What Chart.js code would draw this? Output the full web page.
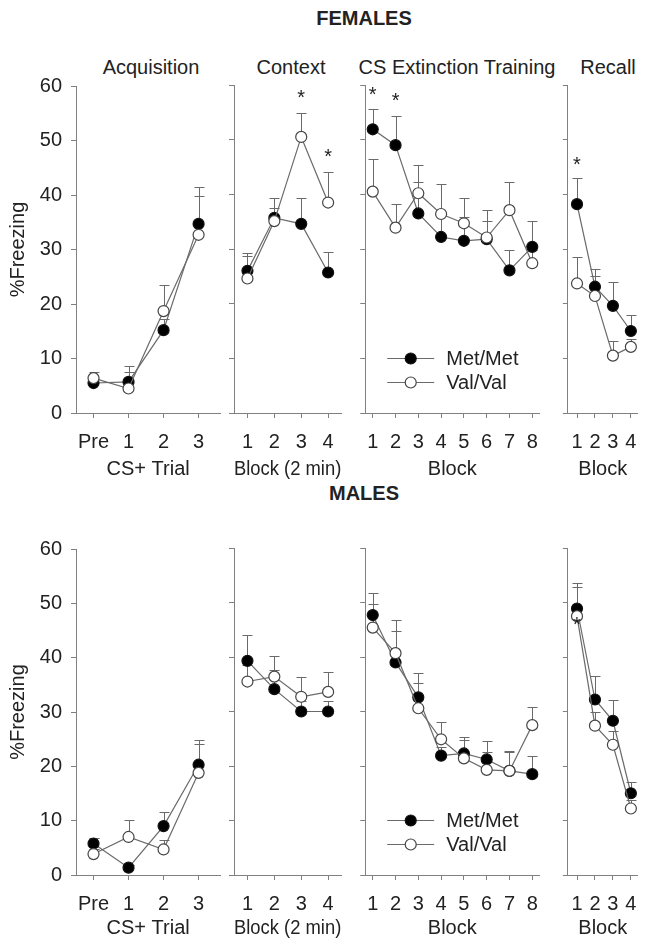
<!DOCTYPE html>
<html>
<head>
<meta charset="utf-8">
<script src="https://cdn.jsdelivr.net/npm/chart.js@4.4.1/dist/chart.umd.min.js"></script>
<style>
body { margin: 0; background: #fff; width: 649px; height: 943px; position: relative; overflow: hidden;
       font-family: "Liberation Sans", Arial, sans-serif; color: #222; }
canvas { position: absolute; }
.t { position: absolute; font-size: 20px; line-height: 1; white-space: nowrap; transform: translate(-50%, -50%); }
.h { font-weight: bold; }
</style>
</head>
<body>
<div class="t h" style="left:364px;top:18px">FEMALES</div>
<div class="t" style="left:151px;top:67px">Acquisition</div>
<div class="t" style="left:291px;top:67px">Context</div>
<div class="t" style="left:457px;top:67px">CS Extinction Training</div>
<div class="t" style="left:608px;top:67px">Recall</div>
<div class="t h" style="left:364px;top:493px">MALES</div>

<canvas id="fAcq"></canvas>
<canvas id="fCtx"></canvas>
<canvas id="fExt"></canvas>
<canvas id="fRec"></canvas>
<canvas id="mAcq"></canvas>
<canvas id="mCtx"></canvas>
<canvas id="mExt"></canvas>
<canvas id="mRec"></canvas>

<script>
// tick labels
const acqLabels = ['Pre', '1', '2', '3'];
const ctxLabels = ['1', '2', '3', '4'];
const extLabels = ['1', '2', '3', '4', '5', '6', '7', '8'];
const recLabels = ['1', '2', '3', '4'];

// females: mean and SEM (% freezing)
const fAcqMet = [5.5, 5.7, 15.2, 34.7];
const fAcqMetSem = [0.8, 2.9, 2.0, 6.7];
const fAcqVal = [6.4, 4.5, 18.7, 32.7];
const fAcqValSem = [1.2, 3.1, 4.8, 7.2];

const fCtxMet = [26.0, 35.7, 34.6, 25.7];
const fCtxMetSem = [3.3, 3.7, 4.8, 3.8];
const fCtxVal = [24.6, 35.1, 50.5, 38.5];
const fCtxValSem = [4.2, 2.4, 4.3, 5.5];

const fExtMet = [51.9, 49.0, 36.5, 32.2, 31.5, 31.8, 26.1, 30.4];
const fExtMetSem = [3.7, 5.4, 5.8, 4.6, 4.4, 3.3, 3.7, 4.8];
const fExtVal = [40.5, 33.9, 40.2, 36.4, 34.7, 32.1, 37.1, 27.4];
const fExtValSem = [5.9, 4.3, 5.1, 5.4, 4.7, 5.0, 5.2, 2.5];

const fRecMet = [38.2, 23.1, 19.6, 15.0];
const fRecMetSem = [4.7, 3.2, 4.4, 2.9];
const fRecVal = [23.7, 21.4, 10.5, 12.1];
const fRecValSem = [4.8, 3.7, 2.7, 1.5];

// males
const mAcqMet = [5.8, 1.35, 9.0, 20.3];
const mAcqMetSem = [1.0, 0.5, 2.6, 4.5];
const mAcqVal = [3.85, 7.0, 4.7, 18.8];
const mAcqValSem = [1.0, 3.1, 1.7, 5.4];

const mCtxMet = [39.3, 34.1, 30.0, 30.0];
const mCtxMetSem = [4.7, 3.6, 2.0, 2.0];
const mCtxVal = [35.5, 36.4, 32.7, 33.6];
const mCtxValSem = [3.0, 3.8, 3.7, 3.7];

const mExtMet = [47.7, 39.0, 32.6, 21.9, 22.3, 21.2, 19.1, 18.5];
const mExtMetSem = [4.0, 5.8, 4.4, 1.5, 3.1, 3.3, 3.7, 3.3];
const mExtVal = [45.4, 40.7, 30.6, 24.9, 21.4, 19.3, 19.1, 27.5];
const mExtValSem = [4.3, 6.1, 4.6, 3.2, 3.4, 3.3, 3.5, 3.4];

const mRecMet = [48.9, 32.2, 28.3, 15.0];
const mRecMetSem = [4.7, 4.3, 3.9, 2.0];
const mRecVal = [47.5, 27.4, 23.9, 12.2];
const mRecValSem = [5.4, 2.5, 2.5, 1.5];

// significant blocks (*)
const fCtxStars = [3, 4];
const fExtStars = [1, 2];
const fRecStars = [1];
const mRecStars = [1];

const AXIS = '#808080';
const LINE = '#6a6a6a';
const FONT = '"Liberation Sans", Arial, sans-serif';

Chart.defaults.font.family = FONT;
Chart.defaults.font.size = 20;
Chart.defaults.color = '#222';

const errorBars = {
  id: 'errorBars',
  beforeDatasetsDraw(chart) {
    const { ctx, scales: { x, y } } = chart;
    ctx.save();
    ctx.strokeStyle = LINE;
    ctx.lineWidth = 1;
    chart.data.datasets.forEach(ds => {
      ds.data.forEach((p, i) => {
        const px = Math.round(x.getPixelForValue(p.x)) + 0.5;
        const y0 = y.getPixelForValue(p.y);
        const y1 = Math.round(y.getPixelForValue(p.y + ds.sem[i])) + 0.5;
        ctx.beginPath();
        ctx.moveTo(px, y0);
        ctx.lineTo(px, y1);
        ctx.moveTo(px - 5, y1);
        ctx.lineTo(px + 5, y1);
        ctx.stroke();
      });
    });
    ctx.restore();
  }
};

const stars = {
  id: 'stars',
  afterDatasetsDraw(chart, args, o) {
    if (!o.at || !o.at.length) return;
    const { ctx, scales: { x, y } } = chart;
    ctx.save();
    ctx.font = '20px ' + FONT;
    ctx.fillStyle = '#222';
    ctx.textAlign = 'center';
    o.at.forEach(xv => {
      let top = -Infinity;
      chart.data.datasets.forEach(ds => ds.data.forEach((p, i) => {
        if (p.x === xv) top = Math.max(top, p.y + ds.sem[i]);
      }));
      const cy = y.getPixelForValue(top) - o.gap;
      ctx.fillText('*', x.getPixelForValue(xv), cy + 11.5);
    });
    ctx.restore();
  }
};

const genoLegend = {
  id: 'genoLegend',
  afterDraw(chart, args, o) {
    if (!o.show) return;
    const { ctx, chartArea: a } = chart;
    ctx.save();
    ctx.font = '20px ' + FONT;
    ctx.fillStyle = '#222';
    ctx.textBaseline = 'middle';
    chart.data.datasets.forEach((ds, i) => {
      const yy = Math.round(a.bottom - 55 + i * 24) + 0.5;
      const x0 = a.left + 22;
      ctx.strokeStyle = LINE;
      ctx.lineWidth = 1.2;
      ctx.beginPath();
      ctx.moveTo(x0, yy);
      ctx.lineTo(x0 + 47, yy);
      ctx.stroke();
      ctx.beginPath();
      ctx.arc(x0 + 23.5, yy, 5.5, 0, Math.PI * 2);
      ctx.fillStyle = ds.pointBackgroundColor;
      ctx.fill();
      ctx.strokeStyle = ds.pointBorderColor;
      ctx.stroke();
      ctx.fillStyle = '#222';
      ctx.fillText(ds.label, x0 + 59, yy + 1);
    });
    ctx.restore();
  }
};

Chart.register(errorBars, stars, genoLegend);

function series(label, xs, vals, sem, filled) {
  return {
    label: label,
    data: xs.map((x, i) => ({ x: x, y: vals[i] })),
    sem: sem,
    borderColor: LINE,
    borderWidth: 1.2,
    pointRadius: 5.5,
    pointBorderWidth: 1.2,
    pointBackgroundColor: filled ? '#000' : '#fff',
    pointBorderColor: filled ? '#111' : '#444',
    order: filled ? 1 : 0,
    clip: false
  };
}

function panel(id, box, labels, first, xMin, xMax, xTitle, met, metSem, val, valSem, extra) {
  const cv = document.getElementById(id);
  cv.width = box.w;
  cv.height = box.h;
  cv.style.left = box.left + 'px';
  cv.style.top = box.top + 'px';
  const xs = labels.map((_, i) => i + first);
  const showY = box.yW > 20;
  new Chart(cv, {
    type: 'line',
    data: {
      datasets: [
        series('Met/Met', xs, met, metSem, true),
        series('Val/Val', xs, val, valSem, false)
      ]
    },
    options: {
      responsive: false,
      animation: false,
      layout: { padding: { top: box.padTop, left: 0, right: 0, bottom: 0 } },
      plugins: {
        legend: { display: false },
        tooltip: { enabled: false },
        stars: { at: extra.stars || [], gap: extra.gap || 20 },
        genoLegend: { show: !!extra.legend }
      },
      scales: {
        x: {
          type: 'linear',
          min: xMin,
          max: xMax,
          afterBuildTicks: s => { s.ticks = xs.map(v => ({ value: v })); },
          afterFit: s => { s.height = box.xH; },
          grid: { drawOnChartArea: false, tickLength: 5, color: AXIS },
          border: { color: AXIS, width: 1 },
          ticks: { callback: v => labels[xs.indexOf(v)], padding: 12, maxRotation: 0, autoSkip: false },
          title: { display: true, text: xTitle, padding: { top: 0, bottom: 0 } }
        },
        y: {
          min: 0,
          max: 60,
          afterFit: s => { s.width = box.yW; },
          grid: { drawOnChartArea: false, tickLength: 5, color: AXIS },
          border: { color: AXIS, width: 1 },
          ticks: { stepSize: 10, display: showY, padding: 9 },
          title: { display: showY, text: '%Freezing', padding: { top: 6, bottom: 0 } }
        }
      }
    }
  });
}

// chart area: top row 85..413, bottom row 548..875
const topRow = { top: 65, h: 416, padTop: 20, xH: 68 };
const botRow = { top: 528, h: 412, padTop: 20, xH: 65 };
const cols = [
  { left: 0, w: 227, yW: 76 },
  { left: 226, w: 122, yW: 8 },
  { left: 355, w: 195, yW: 8 },
  { left: 559, w: 90, yW: 8 }
];
const box = (r, c) => Object.assign({}, r, c);

panel('fAcq', box(topRow, cols[0]), acqLabels, 0, -0.5, 3.62, 'CS+ Trial', fAcqMet, fAcqMetSem, fAcqVal, fAcqValSem, {});
panel('fCtx', box(topRow, cols[1]), ctxLabels, 1, 0.5, 4.49, 'Block (2 min)', fCtxMet, fCtxMetSem, fCtxVal, fCtxValSem, { stars: fCtxStars, gap: 21 });
panel('fExt', box(topRow, cols[2]), extLabels, 1, 0.67, 8.31, 'Block', fExtMet, fExtMetSem, fExtVal, fExtValSem, { stars: fExtStars, gap: 20, legend: true });
panel('fRec', box(topRow, cols[3]), recLabels, 1, 0.49, 4.38, 'Block', fRecMet, fRecMetSem, fRecVal, fRecValSem, { stars: fRecStars, gap: 19 });

panel('mAcq', box(botRow, cols[0]), acqLabels, 0, -0.5, 3.62, 'CS+ Trial', mAcqMet, mAcqMetSem, mAcqVal, mAcqValSem, {});
panel('mCtx', box(botRow, cols[1]), ctxLabels, 1, 0.5, 4.49, 'Block (2 min)', mCtxMet, mCtxMetSem, mCtxVal, mCtxValSem, {});
panel('mExt', box(botRow, cols[2]), extLabels, 1, 0.67, 8.31, 'Block', mExtMet, mExtMetSem, mExtVal, mExtValSem, { legend: true });
panel('mRec', box(botRow, cols[3]), recLabels, 1, 0.49, 4.38, 'Block', mRecMet, mRecMetSem, mRecVal, mRecValSem, { stars: mRecStars, gap: -37 });
</script>
</body>
</html>
